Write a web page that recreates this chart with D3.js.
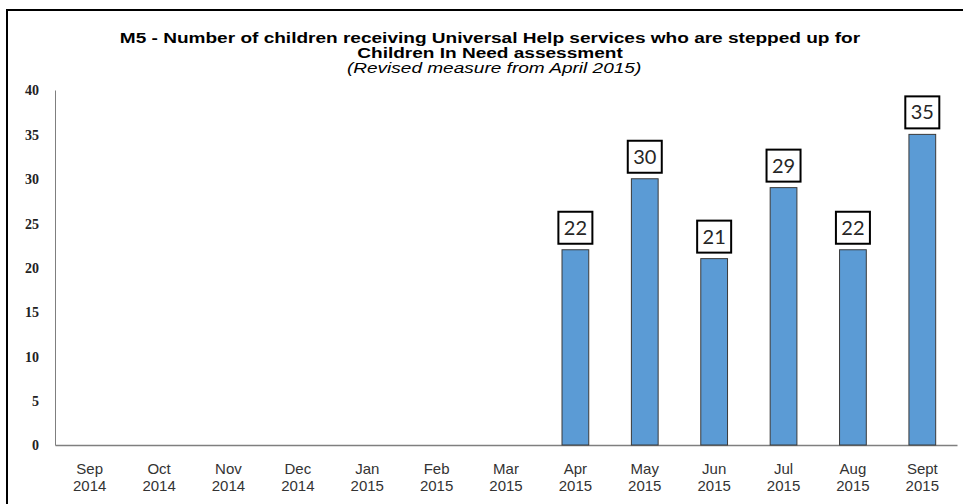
<!DOCTYPE html>
<html>
  <head>
    <meta charset="utf-8">
    <title>M5 - Universal Help step ups</title>
    <script src="https://d3js.org/d3.v7.min.js"></script>
    <style>
      body { margin: 0; background: #fff; }
      #chart { display: block; }
      .title { font-family: "Liberation Sans", Arial, sans-serif; font-size: 14px; fill: #000; text-anchor: middle; }
      .title.main { font-weight: bold; }
      .title.sub { font-style: italic; }
      .yAxis text { font-family: "Liberation Serif", "Times New Roman", serif; font-weight: bold; font-size: 14px; fill: #222; }
      .xAxis text { font-family: "Liberation Sans", Arial, sans-serif; font-size: 15px; fill: #333; }
      .bar { fill: #5b9bd5; stroke: #3a3a3a; stroke-width: 1; }
      .labelBox { fill: #fff; stroke: #000; stroke-width: 2; }
      .labelText { font-family: Lato, "Open Sans", sans-serif; font-size: 20px; fill: #262626; text-anchor: middle; }
    </style>
  </head>
  <body>
    <svg id="chart" width="963" height="504"></svg>
    <script>
      // chart data
      var months = ["Sep", "Oct", "Nov", "Dec", "Jan", "Feb", "Mar", "Apr", "May", "Jun", "Jul", "Aug", "Sept"];
      var years = ["2014", "2014", "2014", "2014", "2015", "2015", "2015", "2015", "2015", "2015", "2015", "2015", "2015"];
      var values = [null, null, null, null, null, null, null, 22, 30, 21, 29, 22, 35];
      var yTicks = [0, 5, 10, 15, 20, 25, 30, 35, 40];
      var titleLines = [
        "M5 - Number of children receiving Universal Help services who are stepped up for",
        "Children In Need assessment"
      ];
      var subtitle = "(Revised measure from April 2015)";

      var data = months.map(function(m, i) {
        return { key: m + " " + years[i], month: m, year: years[i], value: values[i] };
      });

      var margin = { top: 90, right: 6, bottom: 59, left: 55 };
      var width = 963, height = 504;
      var chart = d3.select("#chart");

      // outer frame (top and left edges visible)
      chart.append("path")
        .attr("d", "M7,504 L7,10 L963,10")
        .attr("fill", "none")
        .attr("stroke", "#000")
        .attr("stroke-width", 2);

      var x = d3.scaleBand()
        .domain(data.map(function(d) { return d.key; }))
        .range([margin.left, width - margin.right])
        .paddingInner(0.6)
        .paddingOuter(0.3);
      var y = d3.scaleLinear()
        .domain([0, 40])
        .range([height - margin.bottom, margin.top]);

      // title (the original is stretched sideways)
      var titleGroup = chart.append("g")
        .attr("transform", "translate(490,0) scale(1.36,1)");
      titleGroup.selectAll(".title.main")
        .data(titleLines)
        .enter().append("text")
          .attr("class", "title main")
          .attr("x", 0)
          .attr("y", function(d, i) { return 43 + i * 15; })
          .text(function(d) { return d; });
      titleGroup.append("text")
        .attr("class", "title sub")
        .attr("x", 3)
        .attr("y", 73)
        .text(subtitle);

      // y axis
      var yAxisGroup = chart.append("g")
        .attr("class", "yAxis")
        .attr("transform", "translate(" + margin.left + ",0)")
        .call(d3.axisLeft(y).tickValues(yTicks).tickSize(0).tickPadding(16));
      yAxisGroup.select(".domain").attr("stroke", "#7f7f7f").attr("stroke-width", 1);
      yAxisGroup.selectAll("text").attr("dy", "0.35em");

      // x axis
      var xAxisGroup = chart.append("g")
        .attr("class", "xAxis")
        .attr("transform", "translate(0," + y(0) + ")")
        .call(d3.axisBottom(x).tickSize(0).tickFormat(""));
      xAxisGroup.select(".domain").attr("stroke", "#7f7f7f").attr("stroke-width", 1.5);
      xAxisGroup.selectAll(".tick text").remove();
      xAxisGroup.selectAll(".tick").each(function(key, i) {
        var t = d3.select(this).append("text")
          .attr("text-anchor", "middle")
          .attr("fill", "#333");
        t.append("tspan").attr("x", 0).attr("y", 29).text(data[i].month);
        t.append("tspan").attr("x", 0).attr("y", 46).text(data[i].year);
      });

      // bars
      var present = data.filter(function(d) { return d.value != null; });
      chart.append("g").selectAll(".bar")
        .data(present)
        .enter().append("rect")
          .attr("class", "bar")
          .attr("x", function(d) { return x(d.key) + 0.5; })
          .attr("width", x.bandwidth() - 1)
          .attr("y", function(d) { return y(d.value); })
          .attr("height", function(d) { return y(0) - y(d.value); });

      // boxed labels
      var boxW = 34, boxH = 32, gap = 6;
      var labels = chart.append("g").selectAll(".label")
        .data(present)
        .enter().append("g")
          .attr("transform", function(d) {
            return "translate(" + (x(d.key) + x.bandwidth() / 2) + "," + (y(d.value) - gap - boxH) + ")";
          });
      labels.append("rect")
        .attr("class", "labelBox")
        .attr("x", -boxW / 2)
        .attr("y", 0)
        .attr("width", boxW)
        .attr("height", boxH);
      labels.append("text")
        .attr("class", "labelText")
        .attr("x", 0)
        .attr("y", 23)
        .text(function(d) { return d.value; });
    </script>
  </body>
</html>
